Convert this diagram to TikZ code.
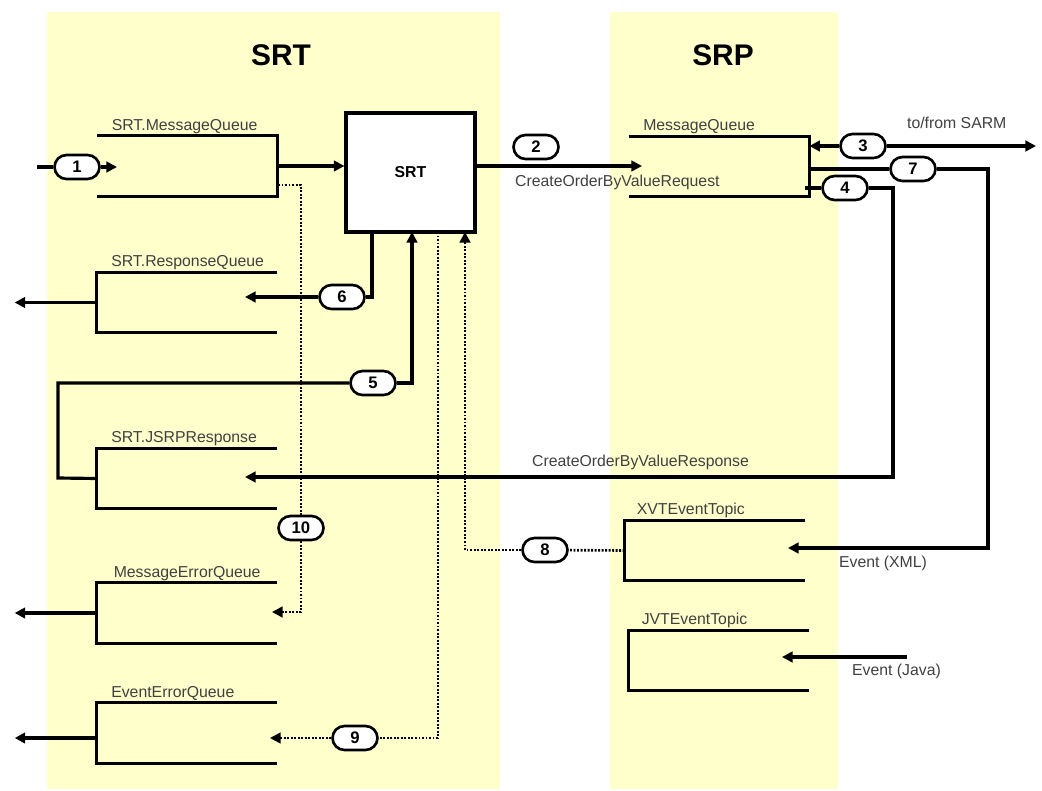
\documentclass[tikz,border=0pt]{standalone}
\usepackage{fontspec}
\setmainfont{Liberation Sans}
\usetikzlibrary{positioning, arrows.meta, calc}

\definecolor{panelyellow}{RGB}{255,255,204}
\definecolor{labelgray}{RGB}{64,64,64}

\begin{document}
\begin{tikzpicture}[x=0.02cm, y=-0.02cm, >={Triangle[length=6pt,width=6pt]}]

\tikzset{
  panel/.style={fill=panelyellow, draw=none},
  queue/.style={rectangle, minimum width=3.6cm, minimum height=1.2cm, inner sep=0pt},
  qline/.style={line width=1.8pt},
  qlabel/.style={font=\fontsize{9}{10}\selectfont, text=labelgray, inner sep=1pt, anchor=south west},
  num/.style={
    rectangle, rounded corners=0.24cm,
    draw, line width=1.5pt, fill=white,
    minimum width=0.9cm, minimum height=0.48cm,
    inner sep=0pt, font=\fontsize{9.5}{10}\selectfont\bfseries
  },
  line/.style={line width=1.8pt},
  arrow/.style={->, line width=1.8pt},
  dotline/.style={line width=1.5pt, dash pattern=on 1.1pt off 0.9pt},
  dotarrow/.style={->, line width=1.5pt, dash pattern=on 1.1pt off 0.9pt},
  title/.style={font=\fontsize{17}{20}\selectfont\bfseries}
}

\useasboundingbox (0,0) rectangle (1042,791);

% ==========================
% Panels + titles
% ==========================
\fill[panel] (47,12) rectangle (500,789);
\fill[panel] (610,12) rectangle (838,789);
\node[title] (srttitle) at (281,55) {SRT};
\node[title] (srptitle) at (723,55) {SRP};

% ==========================
% Queues
% ==========================
\node[queue] (srtmq) at (187.5,166) {};
\node[queue] (srtrq) at (187,302.5) {};
\node[queue] (jsrp) at (187,478.5) {};
\node[queue] (meq) at (187,613) {};
\node[queue] (eeq) at (187,733) {};
\node[queue] (srpmq) at (719,166.5) {};
\node[queue] (xvt) at (715,550.5) {};
\node[queue] (jvt) at (719,660.5) {};

% open on the left
\foreach \q in {srtmq, srpmq}
  \draw[qline] (\q.north west) -- (\q.north east) -- (\q.south east) -- (\q.south west);
% open on the right
\foreach \q in {srtrq, jsrp, meq, eeq, xvt, jvt}
  \draw[qline] (\q.north east) -- (\q.north west) -- (\q.south west) -- (\q.south east);

\node[qlabel] at ([xshift=0.25cm]srtmq.north west) {SRT.MessageQueue};
\node[qlabel] at ([xshift=0.25cm]srtrq.north west) {SRT.ResponseQueue};
\node[qlabel] at ([xshift=0.25cm]jsrp.north west) {SRT.JSRPResponse};
\node[qlabel] at ([xshift=0.3cm]meq.north west) {MessageErrorQueue};
\node[qlabel] at ([xshift=0.25cm]eeq.north west) {EventErrorQueue};
\node[qlabel] at ([xshift=0.25cm]srpmq.north west) {MessageQueue};
\node[qlabel] at ([xshift=0.2cm]xvt.north west) {XVTEventTopic};
\node[qlabel] at ([xshift=0.22cm]jvt.north west) {JVTEventTopic};

% SRT process
\node[draw, line width=1.8pt, fill=white, minimum width=2.58cm, minimum height=2.38cm,
      font=\fontsize{9}{10}\selectfont\bfseries] (srt) at (410.5,172.5) {SRT};

% ==========================
% Step markers
% ==========================
\node[num] (n1) at (77,167) {1};
\node[num] (n2) at (536,147) {2};
\node[num] (n3) at (863,146) {3};
\node[num] (n4) at (845,188) {4};
\node[num] (n5) at (373,383) {5};
\node[num] (n6) at (342,297) {6};
\node[num] (n7) at (913,169) {7};
\node[num] (n8) at (545,550) {8};
\node[num] (n9) at (355,738) {9};
\node[num] (n10) at (301,528) {10};

% free ends and attach points
\coordinate (src1) at (37,167);
\coordinate (in1) at (117,167);
\coordinate (in2) at (642,166);
\coordinate (out3) at (1036,146);
\coordinate (src4) at (805,188);
\coordinate (b4) at (893,188);
\coordinate (in4) at (245,477);
\coordinate (s5) at (412,232);
\coordinate (b5) at (58,478);
\coordinate (s6) at (372,232);
\coordinate (in6) at (245,297);
\coordinate (b7) at (988,169);
\coordinate (in7) at (788,548);
\coordinate (s8) at (465,232);
\coordinate (s9) at (438,232);
\coordinate (in9) at (270,738);
\coordinate (d10) at (278,185);
\coordinate (in10) at (272,612);
\coordinate (srcj) at (907,657);
\coordinate (inj) at (782,657);

% ==========================
% Connectors
% ==========================
\draw[line] (src1) -- (n1);
\draw[arrow] (n1) -- (in1);
\draw[arrow] (srtmq.east) -- (srtmq.east -| srt.west);

\draw[arrow] (srtmq.east -| srt.east) -- (in2);
\node[qlabel, anchor=west] (req) at (513,182) {CreateOrderByValueRequest};

\draw[arrow] (n3) -- (srpmq.east |- n3);
\draw[arrow] (n3) -- (out3);
\node[qlabel, anchor=west] (sarm) at (905,123) {to/from SARM};

\draw[line] (src4) -- (n4);
\draw[arrow] (n4) -- (b4) |- (in4);
\node[qlabel, anchor=west] (resp) at (530,462) {CreateOrderByValueResponse};

\draw[line] (jsrp.west) -- (b5) |- (n5);
\draw[arrow] (n5) -| (s5);

\draw[line] (s6) |- (n6);
\draw[arrow] (n6) -- (in6);

\draw[line] (srpmq.east |- n7) -- (n7);
\draw[arrow] (n7) -- (b7) |- (in7);
\node[qlabel, anchor=west] (evxml) at (837,563) {Event (XML)};

\draw[dotline] (xvt.west) -- (n8);
\draw[dotarrow] (n8) -| (s8);

\draw[dotline] (s9) |- (n9);
\draw[dotarrow] (n9) -- (in9);

\draw[dotline] (d10) -| (n10.north);
\draw[dotarrow] (n10.south) |- (in10);

\draw[arrow] (srcj) -- (inj);
\node[qlabel, anchor=west] (evjava) at (850,671) {Event (Java)};

% outputs to the left
\draw[arrow] (srtrq.west) -- +(-82,0);
\draw[arrow] (meq.west) -- +(-82,0);
\draw[arrow] ([yshift=-0.1cm]eeq.west) -- +(-82,0);

\end{tikzpicture}
\end{document}
